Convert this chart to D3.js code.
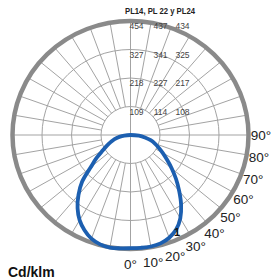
<!DOCTYPE html>
<html><head><meta charset="utf-8">
<script src="https://cdn.jsdelivr.net/npm/d3@7"></script>
<style>html,body{margin:0;padding:0;background:#fff;overflow:hidden}svg{display:block}</style>
</head><body>
<svg id="c" width="271" height="280"></svg>
<script>
// ---- data ----
const title = "PL14, PL 22 y PL24";
const unitLabel = "Cd/klm";
const curveName = "1";
const ringValues = [109, 218, 327, 436];
const ringLabels = [[109, 114, 108], [218, 227, 217], [327, 341, 325], [454, 437, 434]];
const angles = [0, 5, 10, 15, 20, 25, 30, 35, 40, 45, 50, 55, 60, 65, 70, 75, 80, 85, 90];
const rightValues = [433, 433, 433, 429, 418, 399, 368, 326, 280, 238, 199, 165, 138, 115, 96, 77, 54, 31, 0];
const leftValues = [433, 435, 437, 433, 422, 402, 376, 341, 299, 253, 192, 153, 119, 96, 77, 61, 42, 23, 0];
const angleTicks = [0, 10, 20, 30, 40, 50, 60, 70, 80, 90];
const spokeAngles = d3.range(0, 360, 10).filter(a => a % 90 !== 0);

// ---- layout ----
const cx = 130.5, cy = 135, rx = 118, ry = 114;
const font = "'Liberation Sans', Arial, Helvetica, sans-serif";
const svg = d3.select("#c");
const r = d3.scaleLinear().domain([0, 436]).range([0, 1]);
const toRad = d3.scaleLinear().domain([0, 180]).range([0, Math.PI]);
// angle measured from straight down, positive toward the right
const px = (a, v) => cx + rx * r(v) * Math.sin(toRad(a));
const py = (a, v) => cy + ry * r(v) * Math.cos(toRad(a));

const grid = svg.append("g").attr("fill", "none").attr("stroke", "#a3a3a3").attr("stroke-width", 1);
// spokes
grid.selectAll("line.sp").data(spokeAngles).join("line")
  .attr("x1", a => px(a, ringValues[0])).attr("y1", a => py(a, ringValues[0]))
  .attr("x2", a => px(a, 436)).attr("y2", a => py(a, 436));
// axes
grid.append("line").attr("x1", px(-90, 436)).attr("y1", cy).attr("x2", px(90, 436)).attr("y2", cy);
grid.append("line").attr("x1", cx).attr("y1", py(180, 436)).attr("x2", cx).attr("y2", py(0, 436));
// rings
grid.selectAll("ellipse").data(ringValues.slice(0, 3)).join("ellipse")
  .attr("cx", cx).attr("cy", cy).attr("rx", v => rx * r(v)).attr("ry", v => ry * r(v));
// outer ring
svg.append("ellipse").attr("cx", cx).attr("cy", cy).attr("rx", rx).attr("ry", ry)
  .attr("fill", "none").attr("stroke", "#8a8a8a").attr("stroke-width", 4.5);

// ring labels
const colOffsets = [6, 30, 52];
ringLabels.forEach((row, i) => {
  svg.append("g").selectAll("text").data(row).join("text")
    .attr("x", (d, j) => cx + colOffsets[j])
    .attr("y", cy - ry * r(ringValues[i]) + 5)
    .attr("text-anchor", "middle").attr("dominant-baseline", "central")
    .attr("font-family", font).attr("font-size", "8.5px").attr("fill", "#444")
    .text(d => d);
});

// angle labels
svg.append("g").selectAll("text").data(angleTicks).join("text")
  .attr("x", a => cx + (rx + 12.5) * Math.sin(toRad(a)))
  .attr("y", a => cy + (ry + 15) * Math.cos(toRad(a)))
  .attr("text-anchor", "middle").attr("dominant-baseline", "central")
  .attr("font-family", font).attr("font-size", "13.5px").attr("fill", "#222")
  .text(a => a + "°");

// curve
const pts = [];
for (let i = angles.length - 1; i >= 0; i--) pts.push([px(angles[i], rightValues[i]), py(angles[i], rightValues[i])]);
for (let i = 1; i < angles.length - 1; i++) pts.push([px(-angles[i], leftValues[i]), py(-angles[i], leftValues[i])]);
svg.append("path").attr("d", d3.line().curve(d3.curveCatmullRomClosed.alpha(0.5))(pts))
  .attr("fill", "none").attr("stroke", "#1c5fb0").attr("stroke-width", 3.8);

// texts
svg.append("text").attr("x", 160).attr("y", 13.5).attr("text-anchor", "middle")
  .attr("font-family", font).attr("font-weight", "bold").attr("font-size", "9px").attr("fill", "#222")
  .attr("textLength", 70).attr("lengthAdjust", "spacingAndGlyphs").text(title);
svg.append("text").attr("x", 8).attr("y", 277)
  .attr("font-family", font).attr("font-weight", "bold").attr("font-size", "14px").attr("fill", "#111")
  .text(unitLabel);
svg.append("text").attr("x", 177).attr("y", 236).attr("text-anchor", "middle")
  .attr("font-family", font).attr("font-weight", "bold").attr("font-size", "11px").attr("fill", "#111")
  .text(curveName);
</script>
</body></html>
